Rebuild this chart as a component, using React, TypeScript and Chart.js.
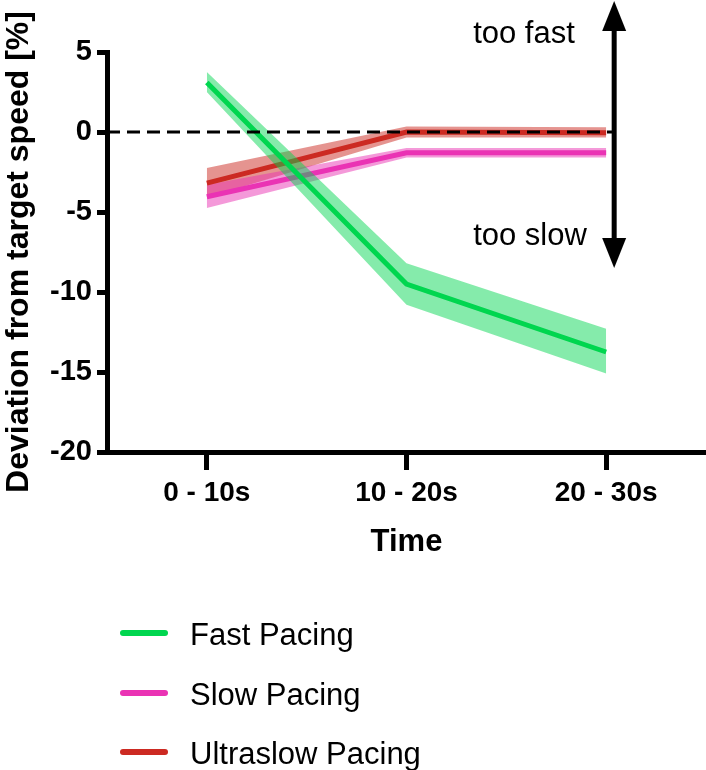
import React, { useEffect, useRef } from 'react';
import Chart from 'chart.js/auto';

const categories = ['0 - 10s', '10 - 20s', '20 - 30s'];
const fastMean = [3.1, -9.5, -13.75];
const fastUpper = [3.75, -8.2, -12.3];
const fastLower = [2.5, -10.8, -15.1];
const slowMean = [-4.05, -1.3, -1.3];
const slowUpper = [-3.3, -1.0, -1.0];
const slowLower = [-4.75, -1.6, -1.6];
const ultraMean = [-3.2, 0.0, -0.05];
const ultraUpper = [-2.25, 0.35, 0.3];
const ultraLower = [-4.1, -0.35, -0.35];
const yMin = -20;
const yMax = 5;
const yStep = 5;
const seriesNames = ['Fast Pacing', 'Slow Pacing', 'Ultraslow Pacing'];
const lineColors = ['#00d64f', '#ea33b4', '#cc2a22'];
const bandColors = ['rgba(0, 214, 79, 0.48)', 'rgba(234, 51, 180, 0.5)', 'rgba(204, 42, 34, 0.5)'];
const yTitle = 'Deviation from target speed [%]';
const xTitle = 'Time';
const upLabel = 'too fast';
const downLabel = 'too slow';

const FONT = "'Liberation Sans', Arial, Helvetica, sans-serif";

const extrasPlugin = {
  id: 'extras',
  afterDatasetsDraw(chart: any) {
    const { ctx, chartArea, scales } = chart;
    const x = scales.x;
    const y = scales.y;
    const y0 = y.getPixelForValue(0);
    const arrowX = x.getPixelForValue(2) + 8;
    ctx.save();
    ctx.beginPath();
    ctx.setLineDash([13, 7]);
    ctx.lineWidth = 3;
    ctx.strokeStyle = '#000';
    ctx.moveTo(chartArea.left, y0);
    ctx.lineTo(arrowX, y0);
    ctx.stroke();
    ctx.setLineDash([]);
    const top = 1;
    const bottom = 268;
    const headH = 30;
    const headW = 12;
    ctx.fillStyle = '#000';
    ctx.fillRect(arrowX - 2.5, top + headH - 2, 5, bottom - top - 2 * headH + 4);
    ctx.beginPath();
    ctx.moveTo(arrowX, top);
    ctx.lineTo(arrowX + headW, top + headH);
    ctx.lineTo(arrowX - headW, top + headH);
    ctx.closePath();
    ctx.fill();
    ctx.beginPath();
    ctx.moveTo(arrowX, bottom);
    ctx.lineTo(arrowX + headW, bottom - headH);
    ctx.lineTo(arrowX - headW, bottom - headH);
    ctx.closePath();
    ctx.fill();
    ctx.font = `31px ${FONT}`;
    ctx.textAlign = 'left';
    ctx.textBaseline = 'alphabetic';
    ctx.fillText(upLabel, arrowX - 141, 43);
    ctx.fillText(downLabel, arrowX - 141, 245);
    ctx.restore();
  },
  afterDraw(chart: any) {
    const { ctx } = chart;
    ctx.save();
    const rows = [633, 693, 752];
    seriesNames.forEach((name, i) => {
      ctx.beginPath();
      ctx.lineCap = 'round';
      ctx.lineWidth = 6;
      ctx.strokeStyle = lineColors[i];
      ctx.moveTo(123, rows[i]);
      ctx.lineTo(165, rows[i]);
      ctx.stroke();
      ctx.fillStyle = '#000';
      ctx.font = `31px ${FONT}`;
      ctx.textAlign = 'left';
      ctx.textBaseline = 'alphabetic';
      ctx.fillText(name, 190, rows[i] + 12);
    });
    ctx.restore();
  },
};

function band(upper: number[], lower: number[], color: string, order: number) {
  return [
    {
      label: '_upper',
      data: upper,
      borderColor: 'transparent',
      borderWidth: 0,
      pointRadius: 0,
      fill: false,
      order,
    },
    {
      label: '_lower',
      data: lower,
      borderColor: 'transparent',
      borderWidth: 0,
      pointRadius: 0,
      backgroundColor: color,
      fill: '-1',
      order,
    },
  ];
}

function meanLine(label: string, data: number[], color: string, order: number) {
  return {
    label,
    data,
    borderColor: color,
    backgroundColor: color,
    borderWidth: 5,
    pointRadius: 0,
    fill: false,
    order,
  };
}

export default function App() {
  const canvasRef = useRef<HTMLCanvasElement | null>(null);

  useEffect(() => {
    const canvas = canvasRef.current;
    if (!canvas) return;
    const datasets: any[] = [
      ...band(ultraUpper, ultraLower, bandColors[2], 6),
      ...band(slowUpper, slowLower, bandColors[1], 5),
      meanLine(seriesNames[2], ultraMean, lineColors[2], 4),
      meanLine(seriesNames[1], slowMean, lineColors[1], 3),
      ...band(fastUpper, fastLower, bandColors[0], 2),
      meanLine(seriesNames[0], fastMean, lineColors[0], 1),
    ];
    const chart = new Chart(canvas, {
      type: 'line',
      data: { labels: categories, datasets },
      options: {
        responsive: false,
        animation: false,
        layout: { padding: { top: 52, right: 0, bottom: 0, left: 0 } },
        plugins: {
          legend: { display: false },
          tooltip: { enabled: false },
        },
        scales: {
          x: {
            type: 'category',
            offset: true,
            afterFit: (scale: any) => {
              scale.height = 318;
            },
            border: { display: true, color: '#000', width: 5 },
            grid: {
              display: true,
              drawOnChartArea: false,
              drawTicks: true,
              tickLength: 18,
              tickWidth: 5,
              color: '#000',
              offset: false,
            },
            ticks: {
              color: '#000',
              padding: 6,
              maxRotation: 0,
              font: { family: FONT, size: 28, weight: 'bold' },
            },
            title: {
              display: true,
              text: xTitle,
              color: '#000',
              padding: { top: 0, bottom: 209 },
              font: { family: FONT, size: 31, weight: 'bold' },
            },
          },
          y: {
            min: yMin,
            max: yMax,
            afterFit: (scale: any) => {
              scale.width = 107;
            },
            border: { display: true, color: '#000', width: 5 },
            grid: {
              display: true,
              drawOnChartArea: false,
              drawTicks: true,
              tickLength: 10,
              tickWidth: 5,
              color: '#000',
            },
            ticks: {
              stepSize: yStep,
              color: '#000',
              padding: 5,
              font: { family: FONT, size: 29, weight: 'bold' },
            },
            title: {
              display: true,
              text: yTitle,
              color: '#000',
              padding: { top: 0, bottom: 0 },
              font: { family: FONT, size: 32, weight: 'bold' },
            },
          },
        },
      },
      plugins: [extrasPlugin],
    } as any);
    return () => chart.destroy();
  }, []);

  return (
    <canvas
      ref={canvasRef}
      width={706}
      height={770}
      style={{ position: 'absolute', left: 0, top: 0, width: 706, height: 770, display: 'block' }}
    />
  );
}
